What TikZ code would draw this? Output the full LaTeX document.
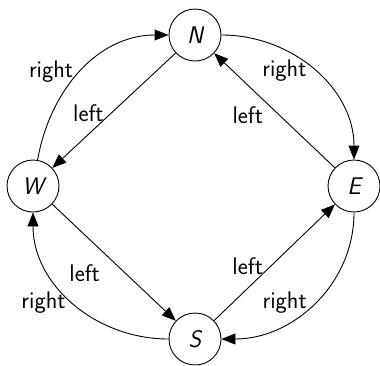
\documentclass[tikz,border=0pt]{standalone}
\usepackage{fontspec}
\usetikzlibrary{arrows.meta}
\begin{document}
\begin{tikzpicture}[x=1pt,y=-1pt,
  st/.style={circle, draw, line width=0.9pt, minimum size=52pt, inner sep=0pt, font=\fontsize{24}{28}\selectfont\sffamily\itshape},
  arr/.style={line width=0.9pt, -{Triangle[length=14pt,width=11pt]}},
  lab/.style={font=\fontsize{24}{28}\selectfont\sffamily, inner sep=7.5pt}]
\useasboundingbox (0,0) rectangle (380,365);
\node[st] (N) at (195,35) {N};
\node[st] (W) at (33,186) {W};
\node[st] (E) at (354,186) {E};
\node[st] (S) at (195,339) {S};
\draw[arr] (W) to[out=80,in=180] node[lab,pos=0.5,anchor=east]{right} (N);
\draw[arr] (N) -- node[lab,pos=0.52,anchor=east]{left} (W);
\draw[arr] (N) to[out=0,in=90] node[lab,pos=0.5,anchor=east]{right} (E);
\draw[arr] (E) -- node[lab,pos=0.53,anchor=north east,yshift=8pt]{left} (N);
\draw[arr] (W) -- node[lab,pos=0.45,anchor=north east]{left} (S);
\draw[arr] (S) -- node[lab,pos=0.47,anchor=east]{left} (E);
\draw[arr] (E) to[out=270,in=0] node[lab,pos=0.5,anchor=east]{right} (S);
\draw[arr] (S) to[out=180,in=270] node[lab,pos=0.5,anchor=east]{right} (W);
\end{tikzpicture}
\end{document}
